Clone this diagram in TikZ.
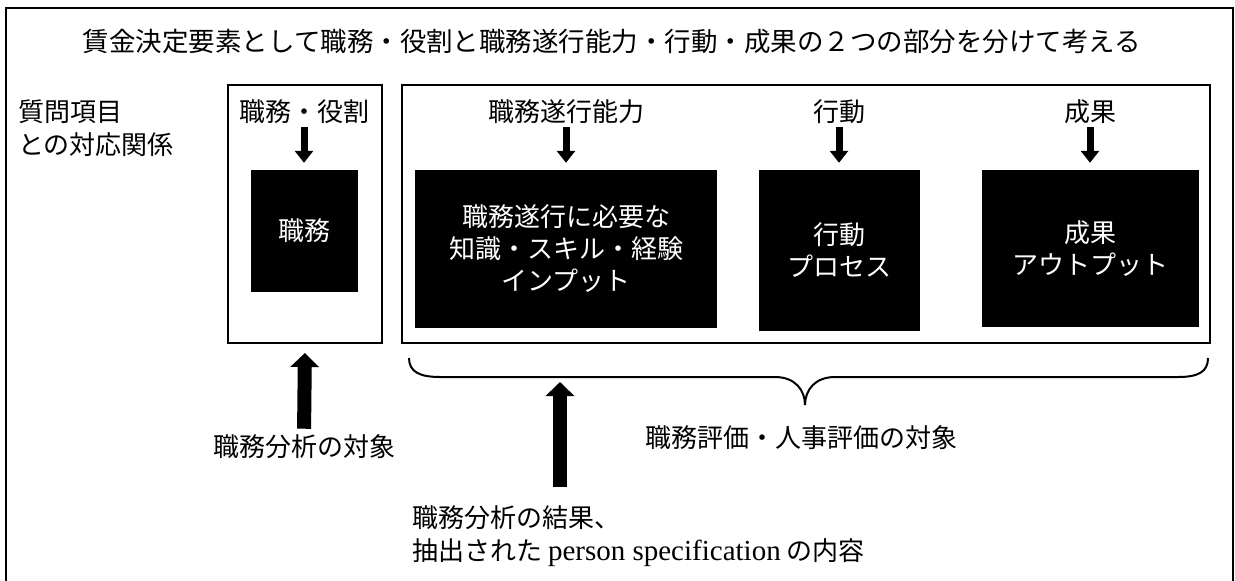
\documentclass[tikz,border=0pt]{standalone}
\usepackage{fontspec}
\setmainfont{Noto Sans CJK JP}
\newfontfamily\latn{Liberation Serif}
\usetikzlibrary{arrows.meta,calc}
\begin{document}
\begin{tikzpicture}[x=1pt,y=-1pt,
  lbl/.style={font=\fontsize{26}{33}\selectfont, inner sep=0pt},
  frm/.style={draw, line width=2pt, inner sep=0pt},
  blk/.style={fill=black, text=white, inner sep=0pt, align=center,
              font=\fontsize{26}{32}\selectfont},
  dnarrow/.style={line width=7pt, -{Triangle[width=18pt,length=12pt]}},
  uparrow/.style={line width=14pt, -{Triangle[width=28pt,length=14pt]}}]
\useasboundingbox (0,0) rectangle (1235,581);
% outer frame
\draw[line width=1.5pt] (6,581) -- (6,8) -- (1233,8) -- (1233,581);
% title
\node[inner sep=0pt, font=\fontsize{26.5}{30}\selectfont] (title) at (612,42)
  {賃金決定要素として職務・役割と職務遂行能力・行動・成果の２つの部分を分けて考える};
% left label
\node[lbl, anchor=north west, align=left] (q) at (18,100) {質問項目\\との対応関係};
% frames
\node[frm, minimum width=154pt, minimum height=258pt] (f1) at (305,214) {};
\node[frm, minimum width=808pt, minimum height=258pt] (f2) at (806,214) {};
% labels
\node[lbl] (l1) at (304,112) {職務・役割};
\node[lbl] (l2) at (566,112) {職務遂行能力};
\node[lbl] (l3) at (839,112) {行動};
\node[lbl] (l4) at (1090,112) {成果};
% black boxes
\node[blk, minimum width=107pt, minimum height=122pt] (b1) at (304,231) {職務};
\node[blk, minimum width=302pt, minimum height=158pt] (b2) at (566,249)
  {職務遂行に必要な\\知識・スキル・経験\\インプット};
\node[blk, minimum width=161pt, minimum height=161pt] (b3) at (839,250.5) {行動\\プロセス};
\node[blk, minimum width=217pt, minimum height=157pt] (b4) at (1090,248.5) {成果\\アウトプット};
% down arrows
\draw[dnarrow, shorten <=3pt, shorten >=7pt] (l1.south) -- (l1.south |- b1.north);
\draw[dnarrow, shorten <=3pt, shorten >=7pt] (l2.south) -- (l2.south |- b2.north);
\draw[dnarrow, shorten <=3pt, shorten >=7pt] (l3.south) -- (l3.south |- b3.north);
\draw[dnarrow, shorten <=3pt, shorten >=7pt] (l4.south) -- (l4.south |- b4.north);
% brace
\coordinate (bc) at (560,377);
\draw[line width=2pt] (409,358) .. controls (409,372) and (420,377) .. (440,377)
  -- (775,377) .. controls (795,377) and (805,390) .. (805,405)
  .. controls (805,390) and (815,377) .. (835,377)
  -- (1178,377) .. controls (1198,377) and (1208,372) .. (1208,358);
% bottom labels
\node[lbl] (u1) at (304,447) {職務分析の対象};
\node[lbl] (e) at (801,438) {職務評価・人事評価の対象};
\node[lbl, anchor=north west, align=left] (u2) at (412,505)
  {職務分析の結果、\\抽出された {\latn\fontsize{29}{33}\selectfont person specification} の内容};
% up arrows
\draw[uparrow, shorten <=6pt, shorten >=9pt] (u1.north) -- (f1.south);
\draw[uparrow, shorten <=18pt, shorten >=5pt] (u2.north -| bc) -- (bc);
\end{tikzpicture}
\end{document}
